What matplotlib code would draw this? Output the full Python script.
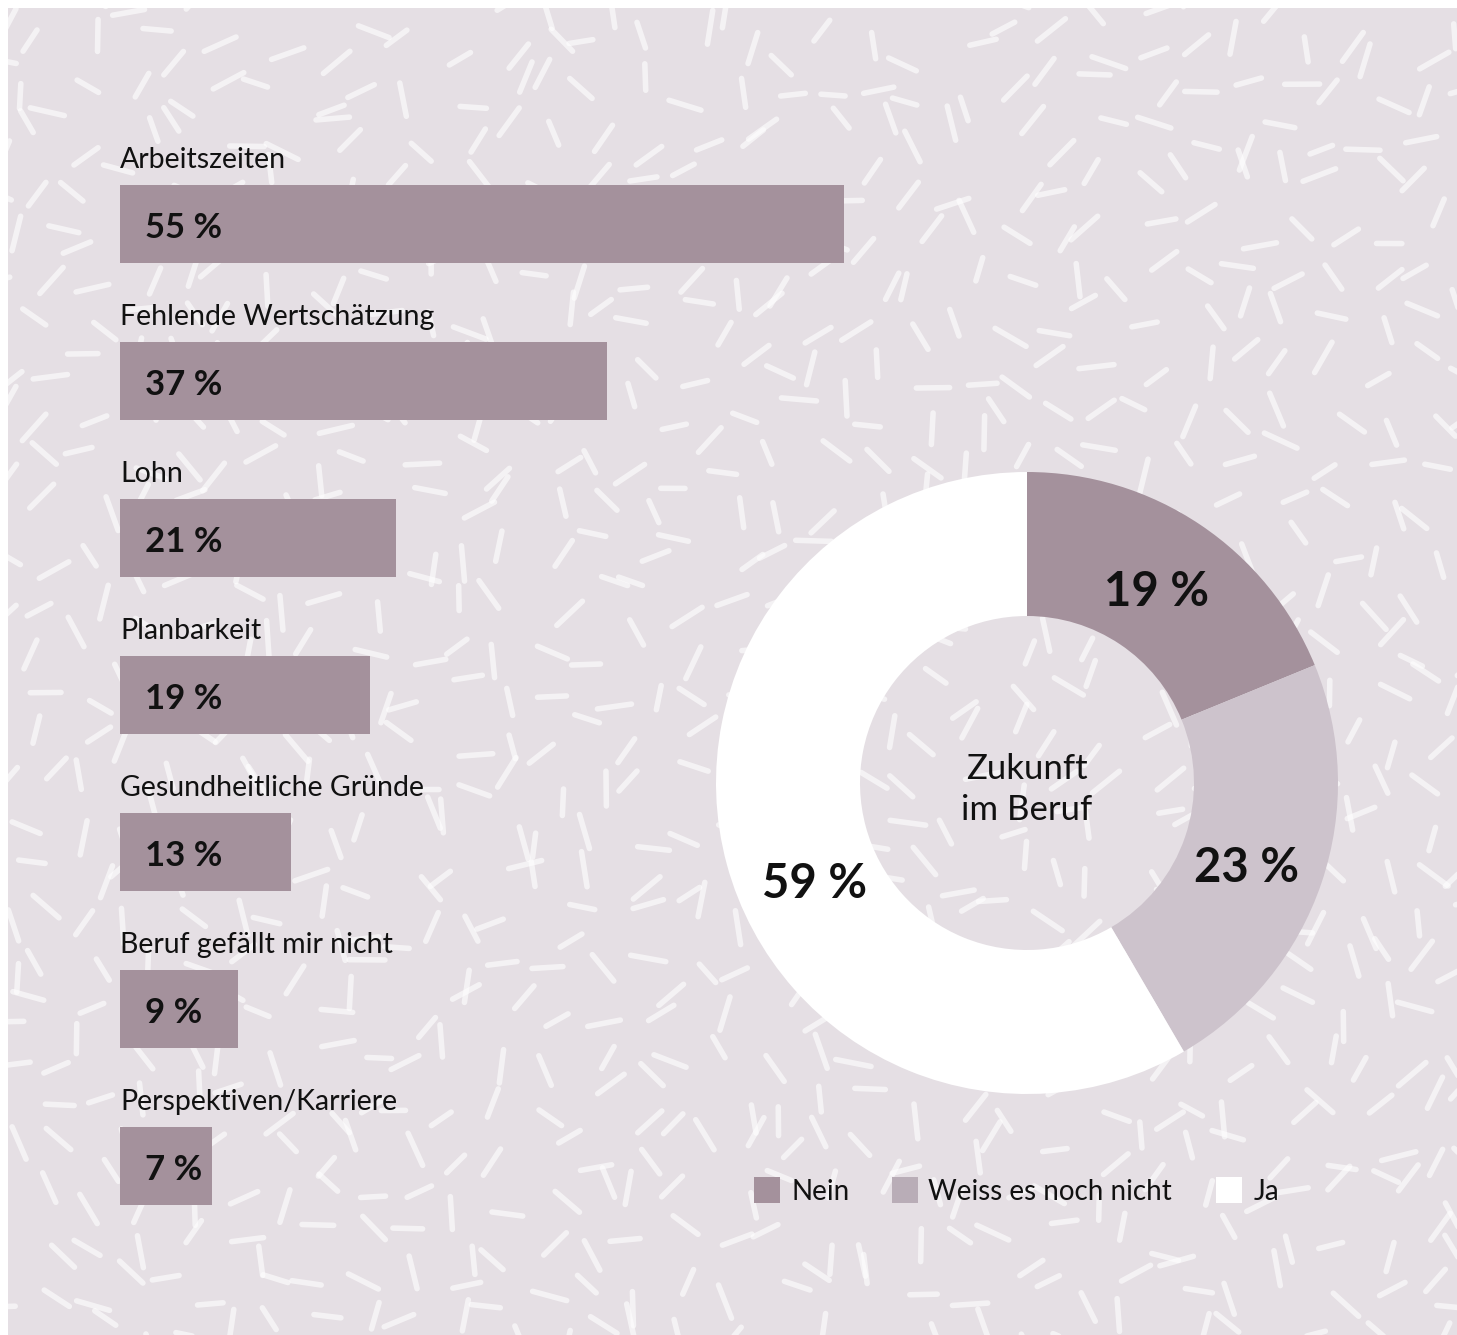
import numpy as np
import matplotlib
matplotlib.use("Agg")
import matplotlib.pyplot as plt
from matplotlib.patches import Rectangle
from matplotlib.collections import LineCollection

plt.rcParams['font.family'] = ['Lato', 'DejaVu Sans']

# ---- data ----
categories = ["Arbeitszeiten", "Fehlende Wertschätzung", "Lohn", "Planbarkeit",
              "Gesundheitliche Gründe", "Beruf gefällt mir nicht", "Perspektiven/Karriere"]
values = [55, 37, 21, 19, 13, 9, 7]
bar_labels = ["55 %", "37 %", "21 %", "19 %", "13 %", "9 %", "7 %"]

donut_names = ["Nein", "Weiss es noch nicht", "Ja"]
donut_values = [19, 23, 59]
donut_labels = ["19 %", "23 %", "59 %"]
donut_title = "Zukunft\nim Beruf"

# ---- style ----
W, H = 1457, 1335
BG = "#e5dfe4"
BAR = "#a4919c"
WEISS = "#cdc3cc"
WEISS_LEG = "#b9adb7"
JA = "#ffffff"

fig = plt.figure(figsize=(W / 100, H / 100), dpi=100, facecolor="white")

# background / decoration axes in pixel coordinates
bg = fig.add_axes([0, 0, 1, 1])
bg.set_xlim(0, W)
bg.set_ylim(H, 0)
bg.axis("off")
bg.add_patch(Rectangle((8, 8), W - 8, H - 8, facecolor=BG, edgecolor="none", zorder=0))

# confetti pattern (deterministic hash, decoration only)
def h(n):
    v = np.sin(n * 12.9898 + 78.233) * 43758.5453
    return v - np.floor(v)

segs = []
step = 46
k = 0
for gy in range(0, H + step, step):
    for gx in range(0, W + step, step):
        k += 1
        cx = gx + (h(k) - 0.5) * step * 0.9
        cy = gy + (h(k + 1000.0) - 0.5) * step * 0.9
        ang = h(k + 2000.0) * np.pi
        L = 24 + h(k + 3000.0) * 12
        dx, dy = np.cos(ang) * L / 2, np.sin(ang) * L / 2
        segs.append([(cx - dx, cy - dy), (cx + dx, cy + dy)])
lc = LineCollection(segs, colors="white", alpha=0.6, linewidths=4.0,
                    capstyle="round", zorder=1)
bg.add_collection(lc)
lc.set_clip_path(Rectangle((8, 8), W - 8, H - 8, transform=bg.transData))

# ---- bar chart ----
top_px, bot_px = 145.5, 1244.5
axb = fig.add_axes([120 / W, (H - bot_px) / H, 724 / W, (bot_px - top_px) / H])
axb.patch.set_alpha(0)
axb.set_xlim(0, 55)
axb.set_ylim(6.5, -0.5)
axb.axis("off")
ypos = np.arange(len(categories))
axb.barh(ypos, values, height=0.497, color=BAR, zorder=3)
for i, (cat, lab) in enumerate(zip(categories, bar_labels)):
    axb.text(0.02, i - 0.405, cat, ha="left", va="center", fontsize=20.5,
             color="#111111", clip_on=False)
    axb.annotate(lab, xy=(0, i), xytext=(18, -3), textcoords="offset points",
                 ha="left", va="center", fontsize=25, fontweight="bold",
                 color="#111111", annotation_clip=False)

# ---- donut ----
cx, cy, R = 1027, 783, 311
axd = fig.add_axes([(cx - R) / W, (H - cy - R) / H, 2 * R / W, 2 * R / H])
axd.patch.set_alpha(0)
wedges, _ = axd.pie(donut_values, colors=[BAR, WEISS, JA], startangle=90,
                    counterclock=False, radius=1,
                    wedgeprops=dict(width=144 / 311, edgecolor="none"))
axd.set_xlim(-1, 1)
axd.set_ylim(-1, 1)
axd.set_aspect("equal")
label_pos = [(0.418, 0.614), (0.707, -0.273), (-0.682, -0.325)]
for (x, y), lab in zip(label_pos, donut_labels):
    axd.text(x, y, lab, ha="center", va="center", fontsize=34, fontweight="bold",
             color="#111111")
axd.text(0, -0.02, donut_title, ha="center", va="center", fontsize=25,
         color="#111111", linespacing=1.35)

# ---- legend ----
leg_colors = [BAR, WEISS_LEG, JA]
sq_x = [754, 892, 1216]
tx_x = [792, 928, 1254]
for name, c, sx, tx in zip(donut_names, leg_colors, sq_x, tx_x):
    bg.add_patch(Rectangle((sx, 1177), 26, 26, facecolor=c, edgecolor="none", zorder=3))
    bg.text(tx, 1192, name, ha="left", va="center", fontsize=20, color="#111111", zorder=3)

fig.savefig("out.png", dpi=100, facecolor="white")
